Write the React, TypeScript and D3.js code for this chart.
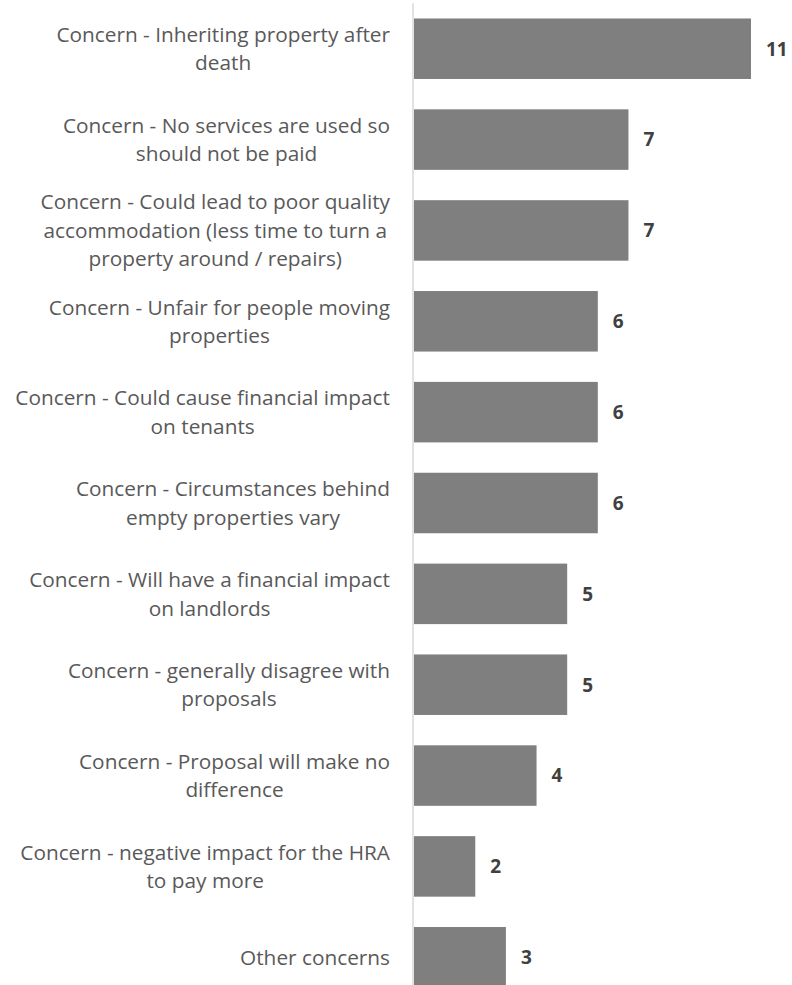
import React from "react";
import * as d3 from "d3";

const categories: string[][] = [
  ["Concern - Inheriting property after", "death"],
  ["Concern - No services are used so", "should not be paid"],
  ["Concern - Could lead to poor quality", "accommodation (less time to turn a", "property around / repairs)"],
  ["Concern - Unfair for people moving", "properties"],
  ["Concern - Could cause financial impact", "on tenants"],
  ["Concern - Circumstances behind", "empty properties vary"],
  ["Concern - Will have a financial impact", "on landlords"],
  ["Concern - generally disagree with", "proposals"],
  ["Concern - Proposal will make no", "difference"],
  ["Concern - negative impact for the HRA", "to pay more"],
  ["Other concerns"],
];
const values: number[] = [11, 7, 7, 6, 6, 6, 5, 5, 4, 2, 3];

const W = 792;
const H = 985;
const FONT = "'Open Sans', sans-serif";
const LABEL_SIZE = 20.8;
const VALUE_SIZE = 19;
const LINE_H = 28.5;
const LABEL_RIGHT = 390;

let ctx: CanvasRenderingContext2D | null = null;
function measure(t: string): number {
  if (!ctx) ctx = document.createElement("canvas").getContext("2d");
  if (!ctx) return t.length * 10;
  ctx.font = `${LABEL_SIZE}px ${FONT}`;
  return ctx.measureText(t).width;
}

export default function App() {
  const idx = categories.map((_, i) => String(i));
  const y = d3.scaleBand<string>().domain(idx).range([3.3, 1002.7]).paddingInner(0.334).paddingOuter(0.167);
  const x = d3.scaleLinear().domain([0, 11]).range([414, 751]);

  return (
    <svg width={W} height={H} style={{ position: "absolute", left: 0, top: 0, background: "#fff" }}>
      <rect x={0} y={0} width={W} height={H} fill="#fff" />
      {values.map((v, i) => {
        const y0 = y(String(i))!;
        const bh = y.bandwidth();
        return (
          <g key={i}>
            <rect x={x(0)} y={y0} width={x(v) - x(0)} height={bh} fill="#7f7f7f" />
            <text
              x={x(v) + 15}
              y={y0 + bh / 2}
              dy="0.36em"
              fontFamily={FONT}
              fontWeight="bold"
              fontSize={VALUE_SIZE}
              fill="#404040"
            >
              {v}
            </text>
          </g>
        );
      })}
      <line x1={413} x2={413} y1={y.range()[0]} y2={y.range()[1]} stroke="#d9d9d9" strokeWidth={1.5} />
      {categories.map((lines, i) => {
        const cy = y(String(i))! + y.bandwidth() / 2;
        const maxW = Math.max(...lines.map(measure));
        const cx = LABEL_RIGHT - maxW / 2;
        const top = cy - ((lines.length - 1) * LINE_H) / 2;
        return (
          <text key={i} fontFamily={FONT} fontSize={LABEL_SIZE} fill="#595959" textAnchor="middle">
            {lines.map((l, j) => (
              <tspan key={j} x={cx} y={top + j * LINE_H} dy="0.36em">
                {l}
              </tspan>
            ))}
          </text>
        );
      })}
    </svg>
  );
}
